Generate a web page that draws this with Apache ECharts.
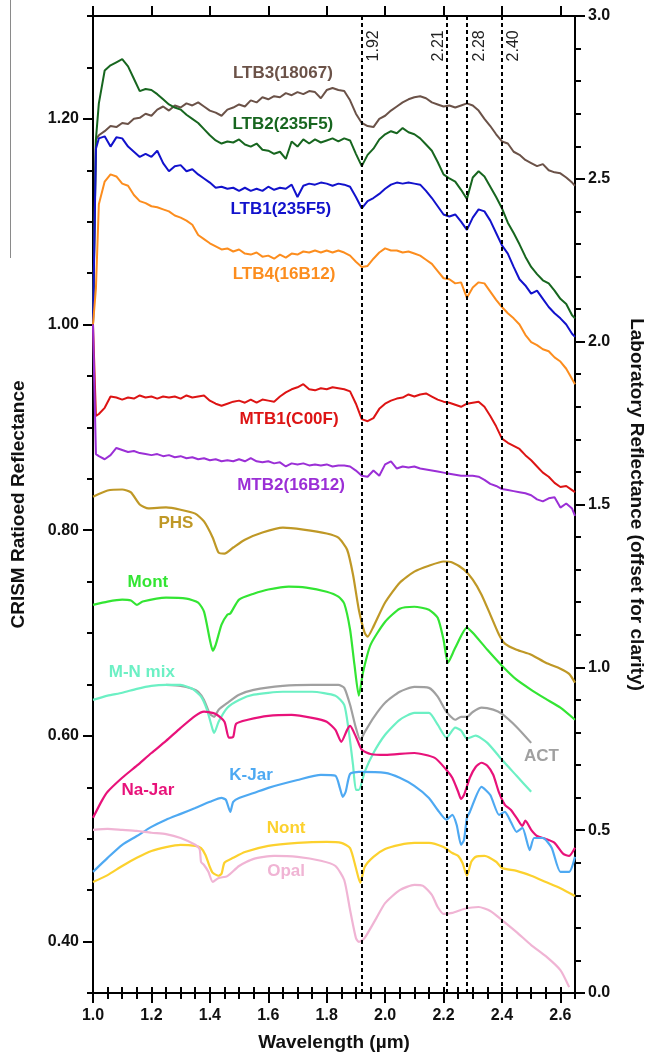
<!DOCTYPE html>
<html lang="en">
<head>
<meta charset="UTF-8">
<title>CRISM ratioed vs laboratory spectra</title>
<script src="https://cdn.jsdelivr.net/npm/echarts@6/dist/echarts.min.js"></script>
<style>
  html, body { margin: 0; padding: 0; background: #fff; }
  #chart { width: 649px; height: 1059px; }
</style>
</head>
<body>
<div id="chart"></div>
<script>
// ---- CRISM ratio spectra (left axis), shared wavelength grid in µm
const crismWl = [1.00, 1.01, 1.02, 1.04, 1.06, 1.08, 1.10, 1.12, 1.14, 1.16, 1.18, 1.20, 1.22, 1.24, 1.26, 1.28, 1.30,
  1.32, 1.34, 1.36, 1.38, 1.40, 1.42, 1.44, 1.46, 1.48, 1.50, 1.52, 1.54, 1.56, 1.58, 1.60, 1.62, 1.64, 1.66, 1.68,
  1.70, 1.72, 1.74, 1.76, 1.78, 1.80, 1.82, 1.84, 1.86, 1.88, 1.90, 1.92, 1.94, 1.96, 1.98, 2.00, 2.02, 2.04, 2.06,
  2.08, 2.10, 2.12, 2.14, 2.16, 2.18, 2.20, 2.22, 2.24, 2.26, 2.28, 2.30, 2.32, 2.34, 2.36, 2.38, 2.40, 2.42, 2.44,
  2.46, 2.48, 2.50, 2.52, 2.54, 2.56, 2.58, 2.60, 2.62, 2.64, 2.65];

const ltb3 = [1.000, 1.180, 1.184, 1.188, 1.193, 1.192, 1.196, 1.195, 1.200, 1.201, 1.205, 1.203, 1.209, 1.212, 1.208, 1.213, 1.211,
  1.215, 1.213, 1.216, 1.212, 1.208, 1.206, 1.203, 1.209, 1.211, 1.214, 1.212, 1.218, 1.216, 1.221, 1.219, 1.222, 1.221, 1.225, 1.223,
  1.226, 1.224, 1.227, 1.226, 1.220, 1.228, 1.230, 1.228, 1.227, 1.218, 1.205, 1.196, 1.193, 1.192, 1.200, 1.203, 1.208, 1.212, 1.216,
  1.219, 1.221, 1.222, 1.220, 1.216, 1.214, 1.212, 1.213, 1.211, 1.213, 1.215, 1.213, 1.208, 1.200, 1.193, 1.185, 1.178, 1.176, 1.168,
  1.165, 1.160, 1.157, 1.154, 1.156, 1.150, 1.148, 1.147, 1.143, 1.138, 1.135];

const ltb2 = [1.000, 1.180, 1.215, 1.247, 1.252, 1.255, 1.258, 1.251, 1.239, 1.227, 1.229, 1.228, 1.224, 1.219, 1.214, 1.211, 1.209,
  1.204, 1.200, 1.196, 1.190, 1.184, 1.179, 1.176, 1.178, 1.177, 1.180, 1.175, 1.173, 1.176, 1.170, 1.169, 1.166, 1.168, 1.161, 1.178,
  1.173, 1.180, 1.176, 1.180, 1.177, 1.179, 1.181, 1.178, 1.181, 1.179, 1.166, 1.154, 1.165, 1.171, 1.180, 1.185, 1.188, 1.186, 1.191,
  1.187, 1.185, 1.181, 1.175, 1.169, 1.158, 1.146, 1.142, 1.139, 1.131, 1.122, 1.143, 1.149, 1.144, 1.134, 1.124, 1.113, 1.099, 1.089,
  1.078, 1.066, 1.056, 1.049, 1.043, 1.040, 1.033, 1.025, 1.020, 1.009, 1.006];

const ltb1 = [1.000, 1.171, 1.181, 1.183, 1.173, 1.182, 1.181, 1.173, 1.168, 1.163, 1.166, 1.163, 1.169, 1.157, 1.149, 1.154, 1.155,
  1.149, 1.151, 1.146, 1.142, 1.138, 1.133, 1.134, 1.132, 1.133, 1.130, 1.133, 1.130, 1.132, 1.130, 1.134, 1.131, 1.133, 1.132, 1.136,
  1.124, 1.135, 1.137, 1.136, 1.138, 1.137, 1.135, 1.137, 1.136, 1.134, 1.124, 1.113, 1.120, 1.123, 1.127, 1.132, 1.136, 1.138, 1.137,
  1.138, 1.137, 1.136, 1.130, 1.123, 1.115, 1.107, 1.105, 1.107, 1.100, 1.092, 1.104, 1.112, 1.110, 1.101, 1.089, 1.077, 1.069, 1.056,
  1.044, 1.038, 1.030, 1.033, 1.025, 1.017, 1.011, 1.006, 1.000, 0.991, 0.988];

const ltb4 = [1.000, 1.035, 1.117, 1.139, 1.146, 1.144, 1.137, 1.135, 1.126, 1.120, 1.118, 1.115, 1.114, 1.112, 1.110, 1.106, 1.104,
  1.101, 1.097, 1.087, 1.083, 1.079, 1.076, 1.073, 1.074, 1.071, 1.073, 1.069, 1.068, 1.070, 1.066, 1.067, 1.064, 1.068, 1.065, 1.069,
  1.068, 1.071, 1.070, 1.072, 1.070, 1.072, 1.070, 1.072, 1.070, 1.067, 1.061, 1.056, 1.057, 1.064, 1.070, 1.074, 1.072, 1.072, 1.070,
  1.071, 1.069, 1.067, 1.063, 1.059, 1.052, 1.045, 1.044, 1.040, 1.041, 1.026, 1.036, 1.041, 1.040, 1.032, 1.024, 1.017, 1.011, 1.006,
  1.000, 0.990, 0.983, 0.980, 0.976, 0.974, 0.968, 0.964, 0.957, 0.947, 0.942];

const mtb1 = [1.000, 0.911, 0.913, 0.919, 0.930, 0.929, 0.927, 0.929, 0.928, 0.931, 0.929, 0.930, 0.928, 0.930, 0.929, 0.930, 0.928,
  0.931, 0.929, 0.930, 0.931, 0.926, 0.923, 0.921, 0.923, 0.925, 0.926, 0.924, 0.927, 0.924, 0.927, 0.926, 0.925, 0.930, 0.934, 0.937,
  0.939, 0.942, 0.937, 0.936, 0.938, 0.937, 0.939, 0.938, 0.937, 0.935, 0.923, 0.908, 0.906, 0.909, 0.918, 0.923, 0.926, 0.928, 0.929,
  0.932, 0.930, 0.932, 0.933, 0.930, 0.927, 0.925, 0.924, 0.922, 0.920, 0.923, 0.924, 0.925, 0.920, 0.911, 0.901, 0.889, 0.885, 0.882,
  0.879, 0.873, 0.868, 0.862, 0.856, 0.852, 0.846, 0.842, 0.843, 0.839, 0.837];

const mtb2 = [1.000, 0.874, 0.872, 0.869, 0.873, 0.880, 0.878, 0.876, 0.877, 0.875, 0.874, 0.873, 0.874, 0.872, 0.873, 0.871, 0.872,
  0.870, 0.871, 0.869, 0.870, 0.868, 0.869, 0.867, 0.868, 0.867, 0.869, 0.867, 0.870, 0.867, 0.866, 0.867, 0.865, 0.866, 0.862, 0.865,
  0.864, 0.865, 0.863, 0.864, 0.863, 0.864, 0.862, 0.863, 0.863, 0.862, 0.858, 0.853, 0.852, 0.858, 0.853, 0.864, 0.867, 0.860, 0.862,
  0.861, 0.862, 0.860, 0.859, 0.858, 0.857, 0.856, 0.855, 0.854, 0.853, 0.853, 0.853, 0.852, 0.849, 0.845, 0.843, 0.840, 0.839, 0.838,
  0.837, 0.836, 0.834, 0.830, 0.828, 0.831, 0.832, 0.822, 0.826, 0.821, 0.814];

// ---- laboratory spectra (right axis, offset), [wavelength µm, reflectance]
const phs = [[1.00, 1.524], [1.05, 1.543], [1.10, 1.546], [1.13, 1.537], [1.16, 1.500], [1.19, 1.488], [1.25, 1.491],
  [1.30, 1.484], [1.35, 1.472], [1.38, 1.448], [1.41, 1.398], [1.43, 1.352], [1.45, 1.349], [1.48, 1.368], [1.52, 1.392],
  [1.58, 1.414], [1.65, 1.429], [1.72, 1.423], [1.80, 1.411], [1.84, 1.398], [1.87, 1.361], [1.89, 1.285], [1.91, 1.177],
  [1.93, 1.106], [1.94, 1.094], [1.96, 1.125], [2.00, 1.199], [2.05, 1.260], [2.10, 1.294], [2.15, 1.312], [2.20, 1.325],
  [2.23, 1.322], [2.27, 1.300], [2.30, 1.269], [2.33, 1.223], [2.36, 1.162], [2.39, 1.100], [2.41, 1.073], [2.45, 1.054],
  [2.50, 1.039], [2.55, 1.014], [2.60, 0.996], [2.63, 0.980], [2.65, 0.953]];

const mont = [[1.00, 1.192], [1.05, 1.202], [1.10, 1.208], [1.13, 1.205], [1.15, 1.192], [1.17, 1.202], [1.25, 1.214],
  [1.32, 1.211], [1.36, 1.199], [1.38, 1.171], [1.40, 1.085], [1.41, 1.051], [1.42, 1.069], [1.44, 1.131], [1.46, 1.162],
  [1.47, 1.165], [1.50, 1.208], [1.55, 1.226], [1.60, 1.239], [1.67, 1.248], [1.73, 1.245], [1.80, 1.232], [1.84, 1.217],
  [1.86, 1.196], [1.88, 1.116], [1.895, 1.008], [1.91, 0.913], [1.925, 0.987], [1.95, 1.069], [2.00, 1.140], [2.05, 1.180],
  [2.10, 1.186], [2.15, 1.177], [2.18, 1.152], [2.20, 1.085], [2.215, 1.014], [2.24, 1.060], [2.28, 1.122], [2.30, 1.106],
  [2.35, 1.054], [2.40, 1.005], [2.45, 0.962], [2.50, 0.931], [2.55, 0.903], [2.60, 0.876], [2.65, 0.839]];

const act = [[1.25, 0.946], [1.30, 0.943], [1.34, 0.934], [1.36, 0.925], [1.38, 0.900], [1.40, 0.857], [1.415, 0.848],
  [1.43, 0.870], [1.46, 0.891], [1.50, 0.916], [1.55, 0.931], [1.65, 0.943], [1.75, 0.946], [1.84, 0.946], [1.86, 0.937],
  [1.88, 0.885], [1.90, 0.814], [1.915, 0.777], [1.93, 0.801], [1.96, 0.845], [2.00, 0.891], [2.05, 0.925], [2.10, 0.940],
  [2.15, 0.937], [2.18, 0.910], [2.21, 0.863], [2.24, 0.839], [2.26, 0.848], [2.28, 0.848], [2.30, 0.863], [2.33, 0.876],
  [2.37, 0.870], [2.40, 0.857], [2.45, 0.817], [2.50, 0.768]];

const mnMix = [[1.00, 0.900], [1.05, 0.913], [1.10, 0.922], [1.15, 0.934], [1.20, 0.943], [1.25, 0.946], [1.30, 0.946],
  [1.34, 0.934], [1.37, 0.910], [1.39, 0.870], [1.41, 0.808], [1.415, 0.799], [1.43, 0.833], [1.46, 0.876], [1.50, 0.900],
  [1.55, 0.916], [1.65, 0.925], [1.75, 0.925], [1.83, 0.913], [1.86, 0.885], [1.875, 0.808], [1.89, 0.701], [1.90, 0.624],
  [1.91, 0.624], [1.93, 0.679], [1.96, 0.737], [2.00, 0.793], [2.05, 0.839], [2.10, 0.860], [2.15, 0.860], [2.18, 0.824],
  [2.21, 0.784], [2.24, 0.815], [2.26, 0.806], [2.28, 0.781], [2.31, 0.790], [2.35, 0.768], [2.40, 0.716], [2.45, 0.667],
  [2.50, 0.618]];

const naJar = [[1.00, 0.538], [1.03, 0.590], [1.05, 0.618], [1.10, 0.661], [1.15, 0.698], [1.20, 0.737], [1.25, 0.774],
  [1.30, 0.814], [1.35, 0.851], [1.38, 0.864], [1.42, 0.857], [1.45, 0.833], [1.465, 0.784], [1.48, 0.787], [1.49, 0.827],
  [1.53, 0.839], [1.60, 0.851], [1.68, 0.854], [1.75, 0.845], [1.80, 0.833], [1.83, 0.808], [1.85, 0.771], [1.87, 0.808],
  [1.88, 0.820], [1.90, 0.787], [1.92, 0.747], [1.95, 0.734], [2.00, 0.731], [2.10, 0.737], [2.17, 0.722], [2.21, 0.685],
  [2.23, 0.661], [2.25, 0.618], [2.26, 0.596], [2.27, 0.608], [2.29, 0.661], [2.31, 0.694], [2.33, 0.707], [2.35, 0.698],
  [2.37, 0.670], [2.39, 0.615], [2.41, 0.578], [2.43, 0.563], [2.45, 0.538], [2.47, 0.513], [2.48, 0.529], [2.50, 0.501],
  [2.52, 0.482], [2.55, 0.473], [2.58, 0.461], [2.61, 0.427], [2.63, 0.421], [2.65, 0.446]];

const kJar = [[1.00, 0.372], [1.05, 0.415], [1.10, 0.455], [1.15, 0.482], [1.20, 0.510], [1.25, 0.532], [1.30, 0.550],
  [1.35, 0.568], [1.40, 0.587], [1.44, 0.599], [1.455, 0.593], [1.47, 0.556], [1.48, 0.587], [1.50, 0.599], [1.55, 0.614],
  [1.60, 0.630], [1.70, 0.654], [1.78, 0.670], [1.83, 0.667], [1.845, 0.630], [1.855, 0.602], [1.865, 0.618], [1.88, 0.673],
  [1.91, 0.679], [2.00, 0.676], [2.05, 0.661], [2.10, 0.636], [2.15, 0.599], [2.18, 0.562], [2.21, 0.532], [2.23, 0.547],
  [2.245, 0.516], [2.26, 0.455], [2.27, 0.470], [2.28, 0.538], [2.29, 0.556], [2.33, 0.633], [2.36, 0.608], [2.39, 0.547],
  [2.41, 0.556], [2.43, 0.526], [2.45, 0.495], [2.47, 0.507], [2.495, 0.439], [2.51, 0.476], [2.54, 0.476], [2.57, 0.446],
  [2.60, 0.372], [2.63, 0.372], [2.65, 0.418]];

const nont = [[1.00, 0.341], [1.05, 0.362], [1.10, 0.390], [1.15, 0.415], [1.20, 0.436], [1.25, 0.448], [1.30, 0.455],
  [1.35, 0.452], [1.37, 0.445], [1.385, 0.424], [1.40, 0.387], [1.41, 0.369], [1.43, 0.360], [1.44, 0.366], [1.45, 0.400],
  [1.48, 0.415], [1.52, 0.433], [1.60, 0.452], [1.70, 0.461], [1.80, 0.464], [1.85, 0.461], [1.88, 0.445], [1.90, 0.384],
  [1.915, 0.338], [1.93, 0.387], [1.96, 0.418], [2.00, 0.442], [2.05, 0.455], [2.10, 0.461], [2.15, 0.461], [2.20, 0.448],
  [2.23, 0.430], [2.25, 0.421], [2.265, 0.399], [2.28, 0.360], [2.295, 0.403], [2.31, 0.418], [2.34, 0.421], [2.38, 0.403],
  [2.40, 0.384], [2.45, 0.375], [2.50, 0.360], [2.55, 0.341], [2.60, 0.322], [2.65, 0.298]];

const opal = [[1.00, 0.501], [1.05, 0.504], [1.10, 0.501], [1.15, 0.498], [1.20, 0.492], [1.25, 0.488], [1.30, 0.476],
  [1.35, 0.455], [1.365, 0.442], [1.37, 0.402], [1.38, 0.393], [1.395, 0.372], [1.41, 0.341], [1.43, 0.353], [1.46, 0.359],
  [1.50, 0.390], [1.55, 0.412], [1.62, 0.421], [1.70, 0.418], [1.78, 0.406], [1.83, 0.390], [1.86, 0.347], [1.88, 0.255],
  [1.90, 0.169], [1.91, 0.157], [1.93, 0.169], [1.97, 0.230], [2.00, 0.276], [2.05, 0.316], [2.10, 0.332], [2.13, 0.329],
  [2.16, 0.301], [2.18, 0.264], [2.20, 0.243], [2.23, 0.246], [2.27, 0.258], [2.32, 0.264], [2.36, 0.252], [2.40, 0.224],
  [2.45, 0.187], [2.50, 0.147], [2.55, 0.113], [2.60, 0.070], [2.63, 0.018]];

// absorption band centres marked by dashed lines (µm)
const bandCenters = [1.92, 2.21, 2.28, 2.40];

// tick values
const xMajorTicks = [1.0, 1.2, 1.4, 1.6, 1.8, 2.0, 2.2, 2.4, 2.6];
const leftMajorTicks = [0.40, 0.60, 0.80, 1.00, 1.20];

// ---- styling
const FONT = '"Liberation Sans", Arial, sans-serif';
const colors = {
  'LTB3(18067)': '#6b5248', 'LTB2(235F5)': '#17661f', 'LTB1(235F5)': '#1212cc', 'LTB4(16B12)': '#fc8d1e',
  'MTB1(C00F)': '#dd1414', 'MTB2(16B12)': '#9b2fd6',
  'PHS': '#bf9826', 'Mont': '#33e533', 'ACT': '#a0a0a0', 'M-N mix': '#6cf0c4', 'Na-Jar': '#e8127a',
  'K-Jar': '#4ea9f2', 'Nont': '#fcd12e', 'Opal': '#f0b4d4'
};
// label anchor points in data coordinates of the bottom/left axes
const labelSpots = [
  ['LTB3(18067)', 1.650, 1.244], ['LTB2(235F5)', 1.650, 1.195], ['LTB1(235F5)', 1.643, 1.112],
  ['LTB4(16B12)', 1.654, 1.049], ['MTB1(C00F)', 1.671, 0.908], ['MTB2(16B12)', 1.678, 0.844],
  ['PHS', 1.284, 0.807], ['Mont', 1.188, 0.749], ['M-N mix', 1.167, 0.662], ['Na-Jar', 1.188, 0.547],
  ['K-Jar', 1.541, 0.562], ['ACT', 2.535, 0.580], ['Nont', 1.661, 0.510], ['Opal', 1.661, 0.468]
];
// band-label side offsets (px from each dashed line, same order as bandCenters) and height on the left axis
const bandLabelDx = [12, -8, 13, 12];
const bandLabelY = 1.271;

const axisLine = { show: true, onZero: false, lineStyle: { color: '#000', width: 2 } };
const tickLabel = { fontSize: 16, fontWeight: 'bold', color: '#111', fontFamily: FONT };
const nameStyle = { fontSize: 19, fontWeight: 'bold', color: '#111', fontFamily: FONT };

function xAx(pos, major) {
  const a = {
    type: 'value', position: pos, min: 1.0, max: 2.65,
    splitLine: { show: false },
    axisLine: major ? axisLine : { show: false },
    axisTick: { show: true, length: major ? 10 : 6, lineStyle: { color: '#000', width: 2 } },
    axisLabel: { show: false }
  };
  if (major) {
    a.axisTick.customValues = xMajorTicks;
    if (pos === 'bottom') {
      a.axisLabel = Object.assign({ show: true, margin: 15, customValues: xMajorTicks,
        formatter: v => v.toFixed(1) }, tickLabel);
      a.name = 'Wavelength (µm)';
      a.nameLocation = 'middle';
      a.nameGap = 40;
      a.nameTextStyle = nameStyle;
    }
  } else {
    a.interval = 0.05;
  }
  return a;
}

const crismSeries = [['LTB3(18067)', ltb3], ['LTB2(235F5)', ltb2], ['LTB1(235F5)', ltb1],
  ['LTB4(16B12)', ltb4], ['MTB1(C00F)', mtb1], ['MTB2(16B12)', mtb2]].map(([name, vals]) => ({
  name, type: 'line', xAxisIndex: 0, yAxisIndex: 0, showSymbol: false, silent: true,
  data: crismWl.map((w, i) => [w, vals[i]]),
  lineStyle: { color: colors[name], width: 2 }
}));

const labSeries = [['PHS', phs], ['Mont', mont], ['ACT', act], ['M-N mix', mnMix], ['Na-Jar', naJar],
  ['K-Jar', kJar], ['Nont', nont], ['Opal', opal]].map(([name, pts]) => ({
  name, type: 'line', xAxisIndex: 0, yAxisIndex: 2, showSymbol: false, silent: true, smooth: 0.2,
  data: pts,
  lineStyle: { color: colors[name], width: 2.2 }
}));

// dashed band markers ride on the first series
crismSeries[0].markLine = {
  silent: true, symbol: ['none', 'none'], animation: false,
  lineStyle: { type: [4, 3], color: '#000', width: 2 },
  label: { show: false },
  data: bandCenters.map(v => ({ xAxis: v }))
};

const chart = echarts.init(document.getElementById('chart'));
chart.setOption({
  animation: false,
  backgroundColor: '#fff',
  grid: { left: 93, right: 74, top: 16, bottom: 66, outerBoundsMode: 'none', containLabel: false },
  xAxis: [xAx('bottom', true), xAx('bottom', false), xAx('top', true), xAx('top', false)],
  yAxis: [
    { type: 'value', position: 'left', min: 0.35, max: 1.30, splitLine: { show: false }, axisLine,
      axisTick: { length: 10, customValues: leftMajorTicks, lineStyle: { color: '#000', width: 2 } },
      axisLabel: Object.assign({ margin: 14, customValues: leftMajorTicks, formatter: v => v.toFixed(2) }, tickLabel),
      name: 'CRISM Ratioed Reflectance', nameLocation: 'middle', nameRotate: 90, nameGap: 65,
      nameTextStyle: nameStyle },
    { type: 'value', position: 'left', min: 0.35, max: 1.30, interval: 0.05, splitLine: { show: false },
      axisLine: { show: false }, axisLabel: { show: false },
      axisTick: { length: 6, lineStyle: { color: '#000', width: 2 } } },
    { type: 'value', position: 'right', min: 0, max: 3, interval: 0.5, splitLine: { show: false }, axisLine,
      axisTick: { length: 10, lineStyle: { color: '#000', width: 2 } },
      axisLabel: Object.assign({ margin: 13, formatter: v => v.toFixed(1) }, tickLabel),
      name: 'Laboratory Reflectance (offset for clarity)', nameLocation: 'middle', nameRotate: -90, nameGap: 52,
      nameTextStyle: nameStyle },
    { type: 'value', position: 'right', min: 0, max: 3, interval: 0.1, splitLine: { show: false },
      axisLine: { show: false }, axisLabel: { show: false },
      axisTick: { length: 6, lineStyle: { color: '#000', width: 2 } } }
  ],
  series: labSeries.concat(crismSeries)
});

// curve names, placed through the axes
const toPx = (x, y) => chart.convertToPixel({ xAxisIndex: 0, yAxisIndex: 0 }, [x, y]);
const texts = labelSpots.map(([t, x, y]) => {
  const p = toPx(x, y);
  return { type: 'text', x: p[0], y: p[1], silent: true,
    style: { text: t, fill: colors[t], font: 'bold 17px ' + FONT, align: 'center', verticalAlign: 'middle' } };
});
// band centre values, written upward beside each dashed line
bandCenters.forEach((v, i) => {
  const p = toPx(v, bandLabelY);
  texts.push({ type: 'text', x: p[0] + bandLabelDx[i], y: p[1], rotation: Math.PI / 2, silent: true,
    style: { text: v.toFixed(2), fill: '#222', font: '16px ' + FONT, align: 'center', verticalAlign: 'middle' } });
});
texts.push({ type: 'line', silent: true, shape: { x1: 10.5, y1: 0, x2: 10.5, y2: 258 },
  style: { stroke: '#8a8a8a', lineWidth: 1 } });
chart.setOption({ graphic: texts });
</script>
</body>
</html>
